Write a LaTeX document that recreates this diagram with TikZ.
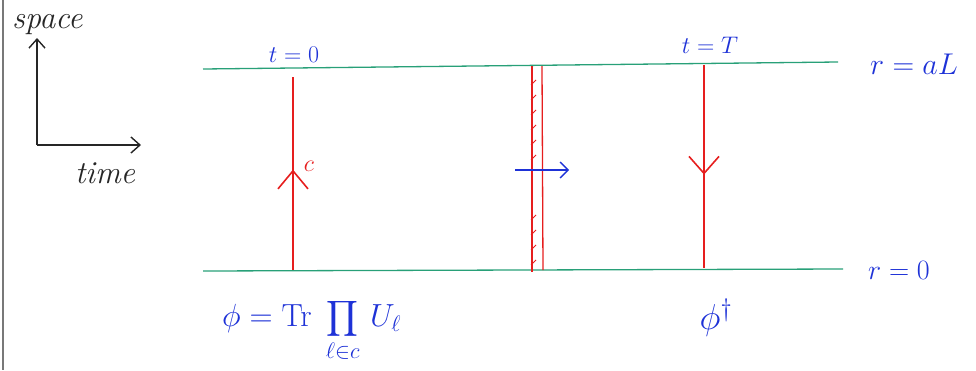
\RequirePackage{fix-cm}
\documentclass[tikz,border=0pt]{standalone}
\usepackage{exscale}
\usetikzlibrary{arrows.meta,decorations.markings}
\definecolor{lgreen}{RGB}{40,160,120}
\definecolor{lblue}{RGB}{30,50,215}
\definecolor{lred}{RGB}{230,30,30}
\definecolor{lgray}{RGB}{120,120,120}
\tikzset{
  axis/.style={line width=1.4pt,black!85},
  barb/.style={-{Straight Barb[length=9pt,width=16pt,line width=1.4pt]}},
  wline/.style={line width=1.3pt,lgreen},
  rline/.style={line width=1.3pt,lred},
  blab/.style={text=lblue,font=\fontsize{24}{26}\selectfont,inner sep=0pt},
  klab/.style={text=black!85,font=\itshape\fontsize{32}{34}\selectfont,inner sep=0pt},
  midarrow/.style 2 args={postaction={decorate},decoration={markings,
     mark=at position #1 with {\arrow{Straight Barb[length=#2,width=30pt,line width=1.6pt]}}}}
}
\begin{document}
\begin{tikzpicture}[x=1pt,y=-1pt]
\useasboundingbox (0,0) rectangle (976,370);
\draw[lgray,line width=1.5pt] (3,0) -- (3,370);
% axes
\coordinate (o) at (37,145);
\coordinate (sp) at (37,38);
\coordinate (tm) at (141,145);
\draw[axis,barb] (o) -- (sp);
\draw[axis,barb] (o) -- (tm);
\node[klab,anchor=base west] (space) at (12,28) {space};
\node[klab,anchor=base] (time) at (105,183) {time};
% green lines
\coordinate (tl) at (203,69);
\coordinate (tr) at (838,62);
\coordinate (bl) at (203,271);
\coordinate (br) at (843,269);
\draw[wline] (tl) -- (tr);
\draw[wline] (bl) -- (br);
\node[blab,font=\fontsize{30}{32}\selectfont] (rL) at (914,64) {$r=aL$};
\node[blab,font=\fontsize{28}{30}\selectfont] (r0) at (899,270) {$r=0$};
\node[blab] (t0) at (294,55) {$t=0$};
\node[blab] (tT) at (710,45) {$t=T$};
% left red line
\coordinate (la) at (293,270);
\coordinate (lb) at (293,77);
\draw[rline,midarrow={0.52}{18pt}] (la) -- (lb);
\node[text=lred,font=\fontsize{24}{26}\selectfont,inner sep=0pt] (c) at (309,166) {$c$};
% right red line
\coordinate (ra) at (704,65);
\coordinate (rb) at (704,268);
\draw[rline,midarrow={0.54}{17pt}] (ra) -- (rb);
% middle double red line
\coordinate (m1a) at (532,66);
\coordinate (m1b) at (532,272);
\coordinate (m2a) at (542,66);
\coordinate (m2b) at (543,270);
\draw[rline] (m1a) -- (m1b);
\draw[rline] (m2a) -- (m2b);
\foreach \y in {80,95,110,125,140,155,215,230,245,260}
  \draw[lred,line width=1pt] (531,\y+5) -- (536,\y);
% blue arrow
\coordinate (ba) at (515,170);
\coordinate (bb) at (569,170);
\draw[lblue,line width=1.4pt,-{Straight Barb[length=8pt,width=16pt,line width=1.4pt]}] (ba) -- (bb);
% formulas
\node[blab,font=\fontsize{32}{34}\selectfont,anchor=west] (phi) at (222,330)
  {$\phi = \mathrm{Tr}\;\displaystyle\prod_{\ell\in c}\, U_\ell$};
\node[blab,font=\fontsize{36}{38}\selectfont] (phid) at (716,318) {$\phi^\dagger$};
\end{tikzpicture}
\end{document}
